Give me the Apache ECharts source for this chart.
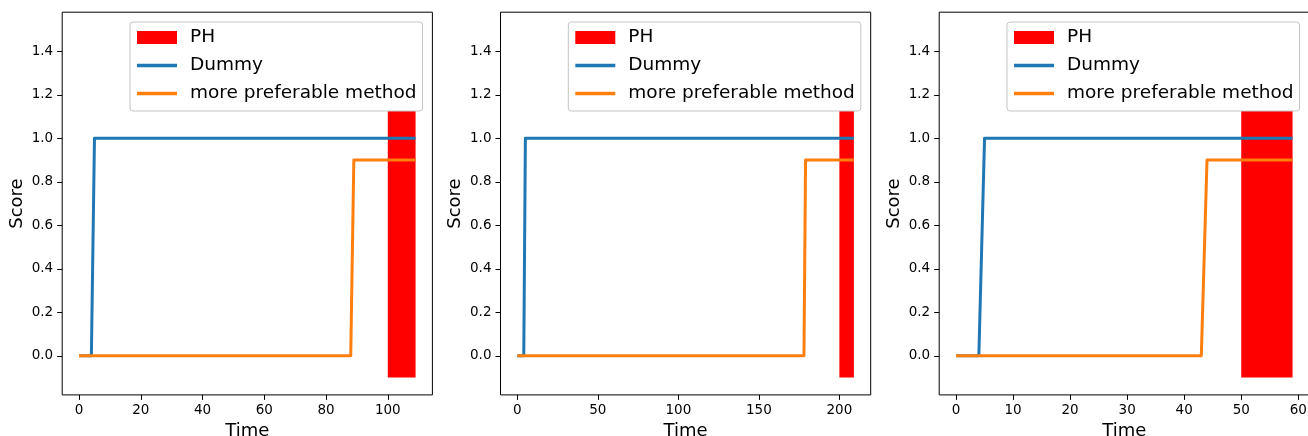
<!DOCTYPE html>
<html><head><meta charset="utf-8">
<script src="https://cdn.jsdelivr.net/npm/echarts@6/dist/echarts.min.js"></script>
<style>html,body{margin:0;padding:0;background:#fff}#c{width:1308px;height:436px}</style>
</head><body><div id="c"></div>
<script>
// ---- data ----
const legendNames = ['PH', 'Dummy', 'more preferable method'];
const yTicks = [0, 0.2, 0.4, 0.6, 0.8, 1.0, 1.2, 1.4];
const yRange = [-0.18, 1.58];

const p1Ticks = [0, 20, 40, 60, 80, 100];
const p1Range = [-5.45, 114.45];
const p1PH = [[100, 109, -0.1, 1.5]];
const p1Dummy = [[0, 0], [4, 0], [5, 1], [109, 1]];
const p1Method = [[0, 0], [88, 0], [89, 0.9], [109, 0.9]];

const p2Ticks = [0, 50, 100, 150, 200];
const p2Range = [-10.45, 219.45];
const p2PH = [[200, 209, -0.1, 1.5]];
const p2Dummy = [[0, 0], [4, 0], [5, 1], [209, 1]];
const p2Method = [[0, 0], [178, 0], [179, 0.9], [209, 0.9]];

const p3Ticks = [0, 10, 20, 30, 40, 50, 60];
const p3Range = [-2.95, 61.95];
const p3PH = [[50, 59, -0.1, 1.5]];
const p3Dummy = [[0, 0], [4, 0], [5, 1], [59, 1]];
const p3Method = [[0, 0], [43, 0], [44, 0.9], [59, 0.9]];

// ---- layout ----
const panels = [
  {left: 62.2, ticks: p1Ticks, range: p1Range, ph: p1PH, dummy: p1Dummy, method: p1Method},
  {left: 500.5, ticks: p2Ticks, range: p2Range, ph: p2PH, dummy: p2Dummy, method: p2Method},
  {left: 939.2, ticks: p3Ticks, range: p3Range, ph: p3PH, dummy: p3Dummy, method: p3Method}
];
const FONT = 'DejaVu Sans';
const C_RED = '#ff0000', C_BLUE = '#1f77b4', C_ORANGE = '#ff7f0e';
const GRID_TOP = 12.2, GRID_H = 382.7, GRID_W = 370.2;

const option = {
  animation: false,
  backgroundColor: '#ffffff',
  grid: [], xAxis: [], yAxis: [], series: [], legend: []
};

panels.forEach((p, i) => {
  option.grid.push({
    left: p.left, top: GRID_TOP, width: GRID_W, height: GRID_H,
    show: true, borderColor: '#000', borderWidth: 1, backgroundColor: 'transparent',
    containLabel: false, outerBoundsMode: 'none'
  });
  option.xAxis.push({
    type: 'value', gridIndex: i, min: p.range[0], max: p.range[1],
    name: 'Time', nameLocation: 'middle', nameGap: 25,
    nameTextStyle: {fontFamily: FONT, fontSize: 18, color: '#000'},
    axisLine: {show: false, onZero: false},
    axisTick: {show: true, length: 5, lineStyle: {color: '#000', width: 1}, customValues: p.ticks},
    axisLabel: {fontFamily: FONT, fontSize: 13.5, color: '#000', margin: 9, customValues: p.ticks,
      formatter: v => String(Math.round(v))},
    splitLine: {show: false}
  });
  option.yAxis.push({
    type: 'value', gridIndex: i, min: yRange[0], max: yRange[1],
    name: 'Score', nameLocation: 'middle', nameGap: 36, nameRotate: 90,
    nameTextStyle: {fontFamily: FONT, fontSize: 18, color: '#000'},
    axisLine: {show: false, onZero: false},
    axisTick: {show: true, length: 5, lineStyle: {color: '#000', width: 1}, customValues: yTicks},
    axisLabel: {fontFamily: FONT, fontSize: 13.5, color: '#000', margin: 9, customValues: yTicks,
      formatter: v => v.toFixed(1)},
    splitLine: {show: false}
  });
  option.series.push({
    type: 'custom', name: legendNames[0], xAxisIndex: i, yAxisIndex: i,
    data: p.ph, encode: {x: [0, 1], y: [2, 3]}, z: 2, color: C_RED,
    renderItem: (params, api) => {
      const a = api.coord([api.value(0), api.value(3)]);
      const b = api.coord([api.value(1), api.value(2)]);
      return {type: 'rect', shape: {x: a[0], y: a[1], width: b[0] - a[0], height: b[1] - a[1]},
        style: {fill: C_RED}};
    }
  });
  option.series.push({
    type: 'line', name: legendNames[1], xAxisIndex: i, yAxisIndex: i, data: p.dummy,
    showSymbol: false, symbol: 'none', color: C_BLUE, z: 3,
    lineStyle: {width: 3, color: C_BLUE, join: 'round'}
  });
  option.series.push({
    type: 'line', name: legendNames[2], xAxisIndex: i, yAxisIndex: i, data: p.method,
    showSymbol: false, symbol: 'none', color: C_ORANGE, z: 4,
    lineStyle: {width: 3, color: C_ORANGE, join: 'round'}
  });
  option.legend.push({
    left: p.left + 67.8, top: 22, orient: 'vertical',
    itemWidth: 40, itemHeight: 13, itemGap: 9,
    padding: [6, 6, 8, 7],
    backgroundColor: '#ffffff', borderColor: '#c4c4c4', borderWidth: 1, borderRadius: 3,
    selectedMode: false, symbolKeepAspect: true,
    textStyle: {fontFamily: FONT, fontSize: 18.5, color: '#000', lineHeight: 18, padding: [0, 0, 0, 8]},
    data: [
      {name: legendNames[0], icon: 'rect', itemStyle: {color: C_RED, borderWidth: 0}},
      {name: legendNames[1], icon: 'path://M0 0H40V3.5H0Z', itemStyle: {color: C_BLUE, borderWidth: 0}},
      {name: legendNames[2], icon: 'path://M0 0H40V3.5H0Z', itemStyle: {color: C_ORANGE, borderWidth: 0}}
    ]
  });
});

const chart = echarts.init(document.getElementById('c'), null, {renderer: 'canvas'});
chart.setOption(option);
</script>
</body></html>
